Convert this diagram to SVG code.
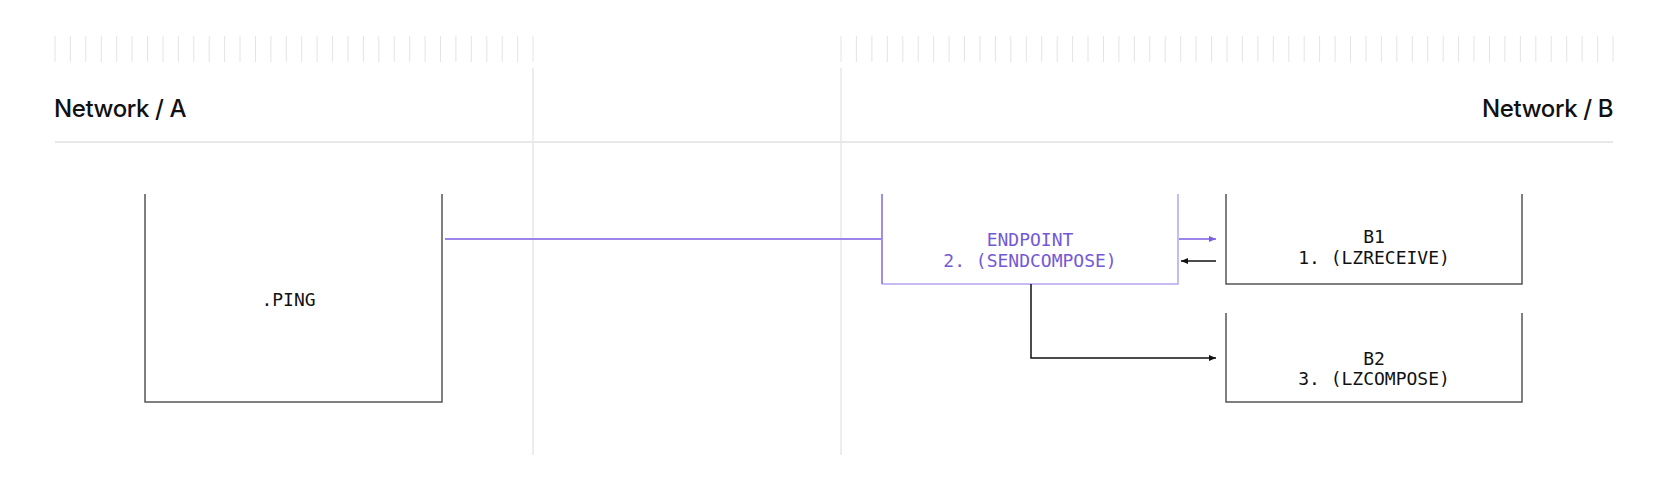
<svg xmlns="http://www.w3.org/2000/svg" width="1670" height="502" viewBox="0 0 1670 502">
<style>
.tick{stroke:#e4e4e4;stroke-width:1;fill:none}
.div{stroke:#e2e2e2;stroke-width:1.2;fill:none}
.hdr{font-family:Inter,"Liberation Sans",sans-serif;font-size:24px;font-weight:500;fill:#111;letter-spacing:-0.4px}
.box{fill:none;stroke:#555;stroke-width:1.5}
.mono{font-family:"DejaVu Sans Mono","Liberation Mono",monospace;font-size:18px;fill:#111;text-anchor:middle}
.pmono{font-family:"DejaVu Sans Mono","Liberation Mono",monospace;font-size:18px;fill:#7459d6;text-anchor:middle}
.pline{stroke:#9c85ea;stroke-width:2;fill:none}
.bline{stroke:#111;stroke-width:1.5;fill:none}
</style>
<defs>
<marker id="ap" markerWidth="8" markerHeight="8" refX="7" refY="4" orient="auto" markerUnits="userSpaceOnUse">
<path d="M0,1 L7,4 L0,7 Z" fill="#7b5fdc"/>
</marker>
<marker id="ab" markerWidth="8" markerHeight="8" refX="7" refY="4" orient="auto" markerUnits="userSpaceOnUse">
<path d="M0,1 L7,4 L0,7 Z" fill="#111"/>
</marker>
</defs>
<rect width="1670" height="502" fill="#fff"/>
<g id="ruler">
<path class="tick" d="M55,36V62M70.4,36V62M85.8,36V62M101.3,36V62M116.7,36V62M132.1,36V62M147.5,36V62M163,36V62M178.4,36V62M193.8,36V62M209.2,36V62M224.6,36V62M240,36V62M255.5,36V62M270.9,36V62M286.3,36V62M301.7,36V62M317.1,36V62M332.6,36V62M348,36V62M363.4,36V62M378.8,36V62M394.2,36V62M409.7,36V62M425.1,36V62M440.5,36V62M455.9,36V62M471.3,36V62M486.8,36V62M502.2,36V62M517.6,36V62M533,36V62"/>
<path class="tick" d="M841,36V62M856.4,36V62M871.9,36V62M887.3,36V62M902.8,36V62M918.2,36V62M933.6,36V62M949.1,36V62M964.5,36V62M980,36V62M995.4,36V62M1010.8,36V62M1026.3,36V62M1041.7,36V62M1057.2,36V62M1072.6,36V62M1088,36V62M1103.5,36V62M1118.9,36V62M1134.4,36V62M1149.8,36V62M1165.2,36V62M1180.7,36V62M1196.1,36V62M1211.6,36V62M1227,36V62M1242.4,36V62M1257.9,36V62M1273.3,36V62M1288.8,36V62M1304.2,36V62M1319.6,36V62M1335.1,36V62M1350.5,36V62M1366,36V62M1381.4,36V62M1396.8,36V62M1412.3,36V62M1427.7,36V62M1443.2,36V62M1458.6,36V62M1474,36V62M1489.5,36V62M1504.9,36V62M1520.4,36V62M1535.8,36V62M1551.2,36V62M1566.7,36V62M1582.1,36V62M1597.6,36V62M1613,36V62"/>
<path class="div" d="M533,68V455M841,68V455"/>
<path d="M55,142H1613" stroke="#e8e8e8" stroke-width="2" fill="none"/>
<text class="hdr" x="54" y="117">Network / A</text>
<text class="hdr" x="1613" y="117" text-anchor="end">Network / B</text>
</g>
<g id="node-ping">
<path class="box" d="M145,194V402H442V194"/>
<text class="mono" x="288.5" y="306">.PING</text>
</g>
<g id="node-endpoint">
<path d="M1178,194V284H882" fill="none" stroke="#b6a5f0" stroke-width="1.5"/>
<path d="M882,194V284" fill="none" stroke="#8569dd" stroke-width="1.5"/>
<text class="pmono" x="1030" y="246">ENDPOINT</text>
<text class="pmono" x="1030" y="267">2. (SENDCOMPOSE)</text>
</g>
<g id="node-b1">
<path class="box" d="M1226,194V284H1522V194"/>
<text class="mono" x="1374" y="243">B1</text>
<text class="mono" x="1374" y="264">1. (LZRECEIVE)</text>
</g>
<g id="node-b2">
<path class="box" d="M1226,313V402H1522V313"/>
<text class="mono" x="1374" y="365">B2</text>
<text class="mono" x="1374" y="385">3. (LZCOMPOSE)</text>
</g>
<g id="connectors">
<path class="pline" d="M445,239H882"/>
<path class="pline" d="M1179,239H1216" marker-end="url(#ap)"/>
<path class="bline" d="M1216,261H1181" marker-end="url(#ab)"/>
<path class="bline" d="M1031,284V358H1216" marker-end="url(#ab)"/>
</g>
</svg>
